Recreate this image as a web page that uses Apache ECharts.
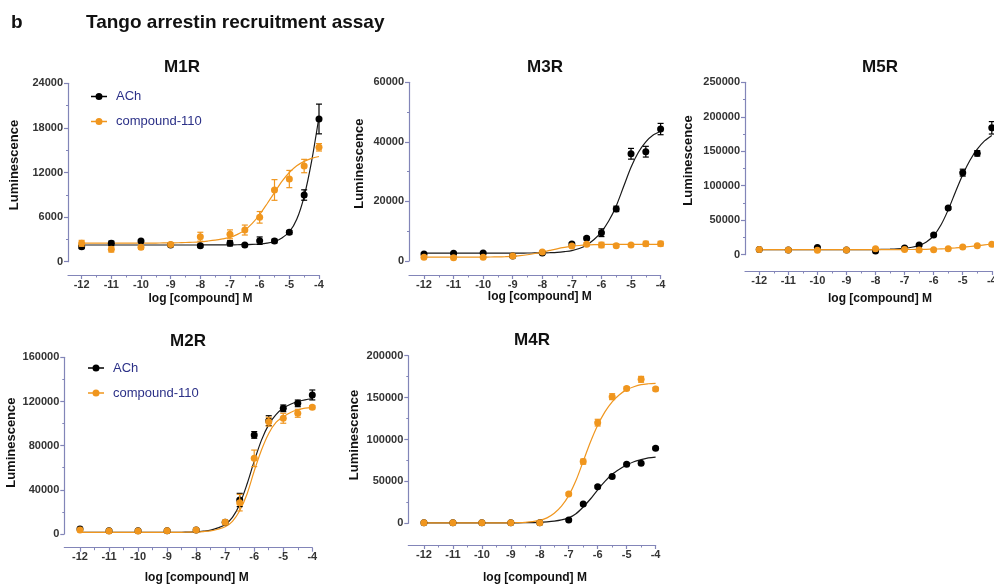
<!DOCTYPE html>
<html>
<head>
<meta charset="utf-8">
<script src="https://cdn.jsdelivr.net/npm/echarts@6/dist/echarts.min.js"></script>
<style>
html,body{margin:0;padding:0;background:#fff;}
#chart{width:994px;height:584px;}
</style>
</head>
<body>
<div id="chart"></div>
<script>
// ---------- data ----------
const doses = [-12, -11, -10, -9, -8, -7, -6.5, -6, -5.5, -5, -4.5, -4];
const fitDoses = [-12, -11.75, -11.5, -11.25, -11, -10.75, -10.5, -10.25, -10, -9.75, -9.5, -9.25, -9, -8.75, -8.5, -8.25, -8,
                  -7.75, -7.5, -7.25, -7, -6.75, -6.5, -6.25, -6, -5.75, -5.5, -5.25, -5, -4.75, -4.5, -4.25, -4];
const xTickLabels = [-12, -11, -10, -9, -8, -7, -6, -5, -4];
const xMinorTicks = [-11.5, -10.5, -9.5, -8.5, -7.5, -6.5, -5.5, -4.5];
const seriesNames = ['ACh', 'compound-110'];
const panelTitles = ['M1R', 'M3R', 'M5R', 'M2R', 'M4R'];

// M1R
const m1rAch = [2020, 2470, 2780, 2240, 2150, 2470, 2240, 2830, 2780, 3950, 8970, 19200];
const m1rAchErr = [250, 300, 200, 200, 200, 350, 200, 500, 250, 250, 700, 2000];
const m1rCmp = [2470, 1660, 1930, 2330, 3360, 3680, 4260, 5970, 9650, 11120, 12870, 15390];
const m1rCmpErr = [400, 360, 250, 250, 600, 600, 670, 780, 1390, 1160, 900, 500];
const m1rAchFit = [2250, 2250, 2250, 2250, 2250, 2250, 2250, 2250, 2250, 2250, 2250, 2250, 2250, 2250, 2250, 2250, 2250,
                   2255, 2260, 2265, 2270, 2280, 2290, 2320, 2380, 2500, 2720, 3200, 4000, 5700, 8800, 13500, 19500];
const m1rCmpFit = [2500, 2500, 2500, 2500, 2500, 2500, 2500, 2500, 2500, 2505, 2510, 2520, 2530, 2550, 2580, 2620, 2680,
                   2780, 2900, 3070, 3280, 3680, 4250, 5150, 6350, 7800, 9300, 10800, 12000, 12900, 13500, 13900, 14150];
// M3R
const m3rAch = [2350, 2580, 2690, 1680, 2690, 5700, 7600, 9500, 17500, 36000, 36700, 44300];
const m3rAchErr = [400, 300, 300, 400, 400, 500, 500, 1300, 900, 1800, 1800, 1900];
const m3rCmp = [1230, 1120, 1230, 1680, 3020, 5000, 5600, 5380, 5150, 5380, 5820, 5800];
const m3rCmpErr = [300, 300, 300, 300, 400, 500, 600, 900, 500, 400, 800, 800];
const m3rAchFit = [2650, 2650, 2650, 2650, 2650, 2650, 2650, 2650, 2650, 2650, 2650, 2650, 2650, 2660, 2680, 2700, 2720,
                   2790, 2900, 3150, 3500, 4200, 5400, 7200, 9800, 13500, 18500, 25000, 31500, 36500, 40000, 42300, 43500];
const m3rCmpFit = [1300, 1300, 1300, 1300, 1300, 1300, 1300, 1310, 1320, 1340, 1380, 1450, 1550, 1780, 2100, 2520, 3000,
                   3560, 4100, 4550, 4900, 5200, 5400, 5500, 5550, 5570, 5580, 5590, 5600, 5600, 5600, 5600, 5600];
// M5R
const m5rAch = [7700, 6800, 10600, 6800, 5300, 9700, 14000, 28500, 67700, 119000, 147000, 184000];
const m5rAchErr = [1000, 1000, 1000, 1000, 1000, 1500, 1500, 1500, 2000, 5000, 4000, 9000];
const m5rCmp = [7700, 6800, 6300, 6800, 8700, 7700, 6800, 7300, 8700, 11100, 13000, 15000];
const m5rCmpErr = [1000, 1000, 1000, 1000, 1000, 1000, 1000, 1000, 1000, 1200, 1200, 1200];
const m5rAchFit = [7500, 7500, 7500, 7500, 7500, 7500, 7500, 7500, 7500, 7500, 7500, 7500, 7500, 7500, 7500, 7500, 7500,
                   7700, 8000, 8500, 9300, 10800, 13500, 18500, 27500, 43000, 65000, 91000, 116000, 137000, 153000, 165000, 173000];
const m5rCmpFit = [7300, 7300, 7300, 7300, 7300, 7300, 7300, 7300, 7300, 7300, 7300, 7300, 7300, 7320, 7340, 7370, 7400,
                   7420, 7450, 7470, 7500, 7550, 7650, 7850, 8100, 8500, 9000, 9800, 10800, 11900, 13000, 14300, 15500];
// M2R
const m2rAch = [4500, 3000, 3000, 3000, 3600, 10600, 30800, 89700, 102600, 113800, 118300, 125900];
const m2rAchErr = [1500, 1000, 1000, 1000, 1000, 1500, 6000, 3000, 4500, 3000, 3000, 4500];
const m2rCmp = [3600, 2700, 2700, 3000, 3600, 10600, 28400, 68500, 101700, 104800, 109300, 114700];
const m2rCmpErr = [1500, 1000, 1000, 1000, 1000, 2000, 7500, 7500, 4000, 4500, 3600, 1500];
const m2rAchFit = [1500, 1500, 1500, 1500, 1500, 1500, 1500, 1500, 1500, 1500, 1500, 1500, 1500, 1500, 1600, 1750, 2000,
                   2600, 3500, 5500, 8500, 15000, 27000, 45000, 66000, 85000, 99000, 108000, 114000, 117500, 120000, 121500, 122500];
const m2rCmpFit = [1500, 1500, 1500, 1500, 1500, 1500, 1500, 1500, 1500, 1500, 1500, 1500, 1500, 1500, 1550, 1650, 1800,
                   2200, 2800, 4300, 6500, 11500, 21000, 36000, 57000, 76000, 91000, 101000, 106000, 110000, 112500, 114000, 114500];
// M4R
const m4rAch = [600, 600, 600, 600, 600, 4000, 23000, 43700, 55700, 70400, 71600, 89500];
const m4rAchErr = [0, 0, 0, 0, 0, 1000, 1500, 1500, 1500, 1500, 1500, 1500];
const m4rCmp = [800, 800, 800, 800, 800, 35000, 73600, 120100, 151100, 161000, 171800, 160200];
const m4rCmpErr = [500, 500, 500, 500, 500, 1500, 3000, 4000, 3500, 2000, 3500, 2000];
const m4rAchFit = [600, 600, 600, 600, 600, 600, 600, 600, 600, 600, 600, 600, 600, 600, 700, 800, 1000,
                   1600, 2500, 4000, 6500, 11500, 19500, 29000, 40000, 50000, 58500, 64500, 69500, 73500, 76000, 78000, 79000];
const m4rCmpFit = [600, 600, 600, 600, 600, 600, 600, 600, 600, 600, 600, 600, 650, 800, 1200, 2000, 3500,
                   6500, 12000, 20500, 33000, 51000, 74000, 97000, 117000, 133000, 145000, 153500, 159500, 163000, 165500, 166500, 167000];

// y axis scales
const yMaxes = [24000, 60000, 250000, 160000, 200000];
const yIntervals = [6000, 20000, 50000, 40000, 50000];

// ---------- layout & style ----------
const FONT = 'Liberation Sans, Arial, sans-serif';
const AXIS_COLOR = '#8285b8';
const BLACK = '#000000';
const ORANGE = '#f0961e';
const LABEL_COLOR = '#333333';

const layout = [
  {left: 68, top: 83.3, width: 251, height: 178.4, xMin: -12.46, xOffset: 13.3, titleX: 182, titleY: 68,
   yNameGap: 47, yNameShift: 7.5, xNameGap: 18, xNameShift: 7},
  {left: 409, top: 82.3, width: 251.6, height: 178.7, xMin: -12.507, xOffset: 14, titleX: 545, titleY: 68,
   yNameGap: 43, yNameShift: 8, xNameGap: 15.5, xNameShift: 5},
  {left: 745, top: 82.3, width: 246.8, height: 172.4, xMin: -12.49, xOffset: 16.3, titleX: 880, titleY: 68,
   yNameGap: 50, yNameShift: 8, xNameGap: 22, xNameShift: 11.6},
  {left: 64.3, top: 357.3, width: 248, height: 176.7, xMin: -12.54, xOffset: 13.7, titleX: 188, titleY: 342,
   yNameGap: 46, yNameShift: 3, xNameGap: 24, xNameShift: 8.4},
  {left: 408.3, top: 355.7, width: 247.3, height: 167.6, xMin: -12.54, xOffset: 21.7, titleX: 532, titleY: 341,
   yNameGap: 47, yNameShift: 4.5, xNameGap: 27, xNameShift: 3}
];

const panelData = [
  [m1rAch, m1rAchErr, m1rCmp, m1rCmpErr, m1rAchFit, m1rCmpFit],
  [m3rAch, m3rAchErr, m3rCmp, m3rCmpErr, m3rAchFit, m3rCmpFit],
  [m5rAch, m5rAchErr, m5rCmp, m5rCmpErr, m5rAchFit, m5rCmpFit],
  [m2rAch, m2rAchErr, m2rCmp, m2rCmpErr, m2rAchFit, m2rCmpFit],
  [m4rAch, m4rAchErr, m4rCmp, m4rCmpErr, m4rAchFit, m4rCmpFit]
];

const pairs = (xs, ys) => xs.map((x, i) => [x, ys[i]]);
const triples = (xs, ys, es) => xs.map((x, i) => [x, ys[i], es[i]]);

function errRender(color) {
  return function (params, api) {
    const x = api.value(0), y = api.value(1), e = api.value(2);
    if (!e) return null;
    const top = api.coord([x, y + e]);
    const bot = api.coord([x, y - e]);
    const w = 3;
    const st = {stroke: color, lineWidth: 1.2};
    return {
      type: 'group',
      children: [
        {type: 'line', shape: {x1: top[0], y1: top[1], x2: bot[0], y2: bot[1]}, style: st},
        {type: 'line', shape: {x1: top[0] - w, y1: top[1], x2: top[0] + w, y2: top[1]}, style: st},
        {type: 'line', shape: {x1: bot[0] - w, y1: bot[1], x2: bot[0] + w, y2: bot[1]}, style: st}
      ]
    };
  };
}

const grids = [], xAxes = [], yAxes = [], series = [], titles = [];

layout.forEach((L, i) => {
  grids.push({left: L.left, top: L.top, width: L.width, height: L.height, containLabel: false, outerBoundsMode: 'none'});
  xAxes.push({
    type: 'value', gridIndex: i, position: 'bottom', min: L.xMin, max: -4, offset: L.xOffset,
    name: 'log [compound] M', nameLocation: 'middle', nameGap: L.xNameGap,
    nameTextStyle: {fontFamily: FONT, fontSize: 12, fontWeight: 'bold', color: '#111', padding: [0, 0, 0, 2 * L.xNameShift], verticalAlign: 'top'},
    axisLine: {show: true, onZero: false, lineStyle: {color: AXIS_COLOR, width: 1.2}},
    axisTick: {show: true, length: 4, customValues: xTickLabels, lineStyle: {color: AXIS_COLOR, width: 1.2}},
    axisLabel: {show: true, customValues: xTickLabels, margin: 4, fontFamily: FONT, fontSize: 11, fontWeight: 'bold', color: LABEL_COLOR,
                hideOverlap: false, showMinLabel: true, showMaxLabel: true},
    splitLine: {show: false}
  });
  yAxes.push({
    type: 'value', gridIndex: i, min: 0, max: yMaxes[i], interval: yIntervals[i],
    name: 'Luminescence', nameLocation: 'middle', nameGap: L.yNameGap, nameRotate: 90,
    nameTextStyle: {fontFamily: FONT, fontSize: 13, fontWeight: 'bold', color: '#111', padding: [0, 0, 0, 2 * L.yNameShift]},
    axisLine: {show: true, onZero: false, lineStyle: {color: AXIS_COLOR, width: 1.2}},
    axisTick: {show: true, length: 4, lineStyle: {color: AXIS_COLOR, width: 1.2}},
    minorTick: {show: true, splitNumber: 2, length: 2, lineStyle: {color: AXIS_COLOR, width: 1}},
    axisLabel: {margin: 5, fontFamily: FONT, fontSize: 11, fontWeight: 'bold', color: LABEL_COLOR,
                formatter: v => String(v)},
    splitLine: {show: false}, minorSplitLine: {show: false}
  });
  titles.push({
    text: panelTitles[i], left: L.titleX, top: L.titleY - 9, textAlign: 'center', padding: 0,
    textStyle: {fontFamily: FONT, fontSize: 17, fontWeight: 'bold', color: '#111'}
  });
});
// minor x ticks (half decades): companion grids with the same geometry
layout.forEach((L, i) => {
  const g = grids.length;
  grids.push({left: L.left, top: L.top, width: L.width, height: L.height, containLabel: false, outerBoundsMode: 'none'});
  xAxes.push({
    type: 'value', gridIndex: g, position: 'bottom', min: L.xMin, max: -4, offset: L.xOffset,
    axisLine: {show: false, onZero: false}, axisLabel: {show: false}, splitLine: {show: false},
    axisTick: {show: true, length: 2.5, customValues: xMinorTicks, lineStyle: {color: AXIS_COLOR, width: 1}}
  });
  yAxes.push({type: 'value', gridIndex: g, min: 0, max: yMaxes[i], show: false});
});

panelData.forEach((d, i) => {
  const [ach, achErr, cmp, cmpErr, achFit, cmpFit] = d;
  series.push({
    type: 'line', name: 'ACh fit', xAxisIndex: i, yAxisIndex: i, data: pairs(fitDoses, achFit),
    showSymbol: false, smooth: 0.3, lineStyle: {color: '#1a1a1a', width: 1.2}, silent: true, z: 2
  });
  series.push({
    type: 'line', name: 'compound-110 fit', xAxisIndex: i, yAxisIndex: i, data: pairs(fitDoses, cmpFit),
    showSymbol: false, smooth: 0.3, lineStyle: {color: ORANGE, width: 1.2}, silent: true, z: 2
  });
  series.push({
    type: 'custom', name: 'ACh err', xAxisIndex: i, yAxisIndex: i, data: triples(doses, ach, achErr),
    renderItem: errRender(BLACK), encode: {x: 0, y: 1}, clip: false, z: 3
  });
  series.push({
    type: 'scatter', name: 'ACh', xAxisIndex: i, yAxisIndex: i, data: pairs(doses, ach),
    symbol: 'circle', symbolSize: 7, itemStyle: {color: BLACK, opacity: 1}, clip: false, z: 4
  });
  series.push({
    type: 'custom', name: 'compound-110 err', xAxisIndex: i, yAxisIndex: i, data: triples(doses, cmp, cmpErr),
    renderItem: errRender(ORANGE), encode: {x: 0, y: 1}, clip: false, z: 5
  });
  series.push({
    type: 'scatter', name: 'compound-110', xAxisIndex: i, yAxisIndex: i, data: pairs(doses, cmp),
    symbol: 'circle', symbolSize: 7, itemStyle: {color: ORANGE, opacity: 1}, clip: false, z: 6
  });
});

titles.push({text: 'b', left: 11, top: 13, padding: 0, textStyle: {fontFamily: FONT, fontSize: 19, fontWeight: 'bold', color: '#111'}});
titles.push({text: 'Tango arrestin recruitment assay', left: 86, top: 13, padding: 0, textStyle: {fontFamily: FONT, fontSize: 19, fontWeight: 'bold', color: '#111'}});

const legendIcon = 'path://M0,2.8 L16,2.8 L16,4.2 L0,4.2 Z M4.5,3.5 A3.5,3.5 0 1,1 11.5,3.5 A3.5,3.5 0 1,1 4.5,3.5 Z';
const legendBase = {
  orient: 'vertical', itemGap: 12, itemWidth: 16, itemHeight: 7, icon: legendIcon, data: seriesNames, padding: 0,
  textStyle: {fontFamily: FONT, fontSize: 13, color: '#2b3087', padding: [0, 0, 0, 4]}, selectedMode: false
};

const option = {
  backgroundColor: '#ffffff',
  animation: false,
  title: titles,
  legend: [
    Object.assign({}, legendBase, {left: 91, top: 90}),
    Object.assign({}, legendBase, {left: 88, top: 361.5})
  ],
  grid: grids,
  xAxis: xAxes,
  yAxis: yAxes,
  series: series
};

const chart = echarts.init(document.getElementById('chart'), null, {renderer: 'canvas'});
chart.setOption(option);
</script>
</body>
</html>
